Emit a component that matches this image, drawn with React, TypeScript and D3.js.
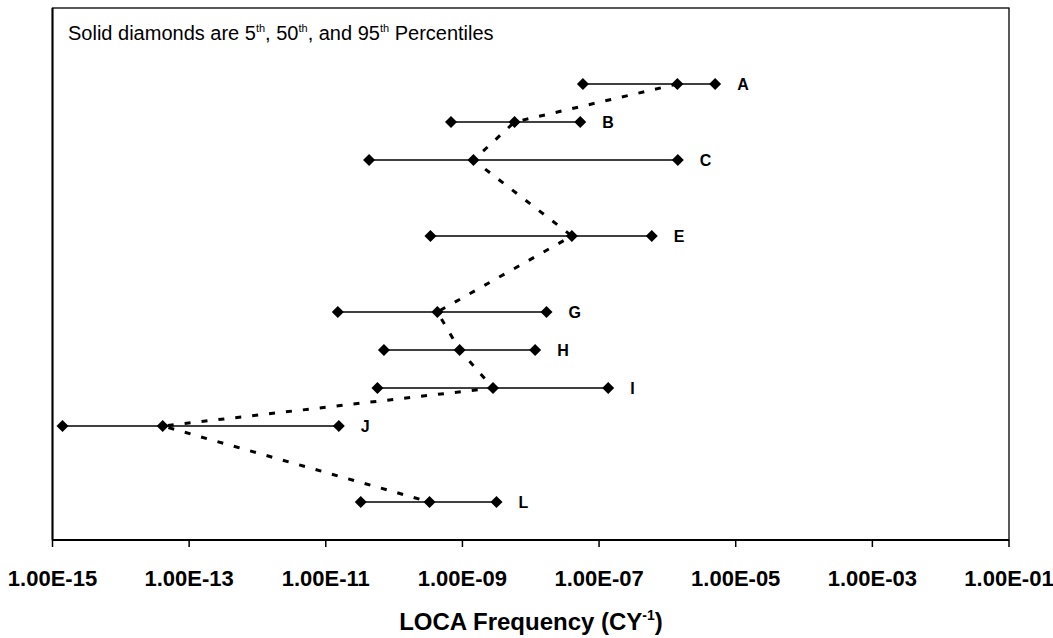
import { useMemo } from "react";
import * as d3 from "d3";

// rows in the original sheet, D / F / K have no estimate
const rows = ["A", "B", "C", "D", "E", "F", "G", "H", "I", "J", "K", "L"];
const p5 = [5.8e-8, 6.8e-10, 4.3e-11, null, 3.4e-10, null, 1.5e-11, 7.1e-11, 5.7e-11, 1.4e-15, null, 3.25e-11];
const p50 = [1.4e-6, 5.8e-9, 1.45e-9, null, 4.0e-8, null, 4.3e-10, 9.1e-10, 2.8e-9, 4.1e-14, null, 3.3e-10];
const p95 = [5.0e-6, 5.3e-8, 1.42e-6, null, 5.9e-7, null, 1.7e-8, 1.16e-8, 1.36e-7, 1.55e-11, null, 3.15e-9];
const xTicks = [1e-15, 1e-13, 1e-11, 1e-9, 1e-7, 1e-5, 1e-3, 1e-1];

const W = 1053;
const H = 638;
const margin = { top: 8, right: 44, bottom: 98, left: 52.5 };
const font = "'Liberation Sans', Arial, sans-serif";

const fmt = (v: number) => {
  const e = Math.round(Math.log10(v));
  const s = Math.abs(e).toString().padStart(2, "0");
  return `1.00E${e < 0 ? "-" : "+"}${s}`;
};

export default function App() {
  const innerW = W - margin.left - margin.right;
  const innerH = H - margin.top - margin.bottom;
  const bottom = margin.top + innerH;

  const x = d3.scaleLog().domain([1e-15, 1e-1]).range([margin.left, margin.left + innerW]);
  // one empty slot above A, so the rows start lower than a symmetric padding would
  const y = d3
    .scalePoint<string>()
    .domain(["", ...rows])
    .range([margin.top, bottom])
    .padding(1);

  const data = useMemo(
    () =>
      rows
        .map((r, i) => ({ r, lo: p5[i], mid: p50[i], hi: p95[i] }))
        .filter((d) => d.mid != null) as { r: string; lo: number; mid: number; hi: number }[],
    []
  );

  const medianLine = d3
    .line<{ r: string; mid: number }>()
    .x((d) => x(d.mid))
    .y((d) => y(d.r) as number);

  const diamond = d3.symbol().type(d3.symbolSquare).size(72)();

  return (
    <svg
      width={W}
      height={H}
      style={{ position: "absolute", left: 0, top: 0, background: "#fff" }}
      fontFamily={font}
    >
      {/* plot frame */}
      <rect x={margin.left} y={margin.top} width={innerW} height={innerH} fill="none" stroke="#000" strokeWidth={1.3} />
      <line x1={margin.left} x2={margin.left} y1={margin.top} y2={bottom} stroke="#000" strokeWidth={2} />
      <line x1={margin.left} x2={margin.left + innerW} y1={bottom} y2={bottom} stroke="#000" strokeWidth={2} />

      {/* x ticks */}
      {xTicks.map((t) => (
        <g key={t}>
          <line x1={x(t)} x2={x(t)} y1={bottom} y2={bottom + 7} stroke="#000" strokeWidth={1.5} />
          <text x={x(t)} y={586} textAnchor="middle" fontSize={22} fontWeight="bold" fill="#000">
            {fmt(t)}
          </text>
        </g>
      ))}

      <text x={531} y={630} textAnchor="middle" fontSize={24} fontWeight="bold" fill="#000">
        LOCA Frequency (CY
        <tspan fontSize={14} dy={-10}>-1</tspan>
        <tspan dy={10}>)</tspan>
      </text>

      <text x={68} y={40} fontSize={20} fill="#000">
        Solid diamonds are 5<tspan fontSize={11} dy={-8}>th</tspan>
        <tspan dy={8}>, 50</tspan>
        <tspan fontSize={11} dy={-8}>th</tspan>
        <tspan dy={8}>, and 95</tspan>
        <tspan fontSize={11} dy={-8}>th</tspan>
        <tspan dy={8}> Percentiles</tspan>
      </text>

      {/* 5th-95th ranges */}
      {data.map((d) => {
        const yy = y(d.r) as number;
        return (
          <g key={d.r}>
            <line x1={x(d.lo)} x2={x(d.hi)} y1={yy} y2={yy} stroke="#000" strokeWidth={1.6} />
            {[d.lo, d.mid, d.hi].map((v, j) => (
              <path key={j} d={diamond || ""} transform={`translate(${x(v)},${yy}) rotate(45)`} fill="#000" />
            ))}
            <text x={x(d.hi) + 22} y={yy + 6} fontSize={16} fontWeight="bold" fill="#000">
              {d.r}
            </text>
          </g>
        );
      })}

      {/* medians joined by a dashed line */}
      <path d={medianLine(data) || ""} fill="none" stroke="#000" strokeWidth={3} strokeDasharray="6,11" />
    </svg>
  );
}
